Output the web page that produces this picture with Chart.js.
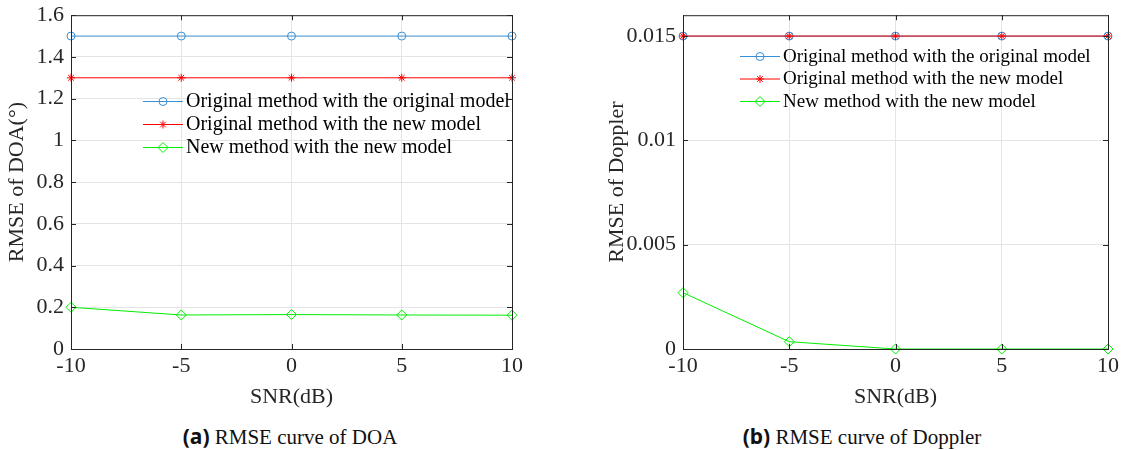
<!DOCTYPE html>
<html lang="en">
<head>
  <meta charset="UTF-8">
  <title>RMSE curves</title>
  <script src="https://cdn.jsdelivr.net/npm/chart.js"></script>
  <style>
    body { margin: 0; background: #fff; width: 1123px; height: 450px; position: relative; overflow: hidden; }
    .box { position: absolute; }
    .cap { position: absolute; top: 423px; font-family: "Liberation Serif", serif; font-size: 21px; line-height: 26px; color: #111; white-space: nowrap; transform: translateX(-50%); }
    .cap b { font-family: "Noto Sans", sans-serif; font-weight: bold; font-size: 21px; }
  </style>
</head>
<body>
  <div class="box" style="left:0;top:-5px;width:530px;height:419px;"><canvas id="doaChart"></canvas></div>
  <div class="box" style="left:600px;top:-5px;width:523px;height:419px;"><canvas id="dopChart"></canvas></div>
  <div class="cap" style="left:290px;"><b>(a)</b> RMSE curve of DOA</div>
  <div class="cap" style="left:862px;"><b>(b)</b> RMSE curve of Doppler</div>

  <script>
    // data
    const snr = [-10, -5, 0, 5, 10];
    const seriesNames = ['Original method with the original model', 'Original method with the new model', 'New method with the new model'];
    const doaOrigOrig = [1.5, 1.5, 1.5, 1.5, 1.5];
    const doaOrigNew = [1.3, 1.3, 1.3, 1.3, 1.3];
    const doaNewNew = [0.2, 0.163, 0.165, 0.163, 0.162];
    const dopOrigOrig = [0.015, 0.015, 0.015, 0.015, 0.015];
    const dopOrigNew = [0.015, 0.015, 0.015, 0.015, 0.015];
    const dopNewNew = [0.0027, 0.00035, 0, 0, 0];
    const xTicks = [-10, -5, 0, 5, 10];
    const doaTicks = [0, 0.2, 0.4, 0.6, 0.8, 1, 1.2, 1.4, 1.6];
    const dopTicks = [0, 0.005, 0.01, 0.015];

    const serif = '"Liberation Serif", "Times New Roman", serif';
    const axisColor = '#262626';
    const colors = ['#3a8fd2', '#ff0000', '#00ee00'];
    const styles = ['circle', 'star', 'rectRot'];
    const radii = [4, 4, 5];

    function makeSets(arrs) {
      return arrs.map((arr, i) => ({
        label: seriesNames[i],
        data: arr.map((v, j) => ({ x: snr[j], y: v })),
        borderColor: colors[i],
        backgroundColor: 'rgba(0,0,0,0)',
        borderWidth: 1,
        pointStyle: styles[i],
        pointRadius: radii[i],
        pointBorderWidth: 1,
        pointBorderColor: colors[i],
        pointBackgroundColor: 'rgba(0,0,0,0)',
        order: 3 - i,
        clip: false,
        tension: 0
      }));
    }

    // box, inward ticks and legend drawn inside the plot area
    const matlabBox = {
      id: 'matlabBox',
      afterDraw(chart, args, opts) {
        const ctx = chart.ctx;
        const a = chart.chartArea;
        ctx.save();
        ctx.strokeStyle = axisColor;
        ctx.lineWidth = 1;
        ctx.strokeRect(a.left + 0.5, a.top + 0.5, a.right - a.left, a.bottom - a.top);
        ctx.beginPath();
        chart.scales.x.ticks.forEach(t => {
          const px = Math.round(chart.scales.x.getPixelForValue(t.value)) + 0.5;
          ctx.moveTo(px, a.bottom); ctx.lineTo(px, a.bottom - 5);
          ctx.moveTo(px, a.top); ctx.lineTo(px, a.top + 5);
        });
        chart.scales.y.ticks.forEach(t => {
          const py = Math.round(chart.scales.y.getPixelForValue(t.value)) + 0.5;
          ctx.moveTo(a.left, py); ctx.lineTo(a.left + 5, py);
          ctx.moveTo(a.right, py); ctx.lineTo(a.right - 5, py);
        });
        ctx.stroke();

        // legend
        ctx.font = opts.fontSize + 'px ' + serif;
        ctx.textBaseline = 'middle';
        chart.data.datasets.forEach((ds, i) => {
          const y = opts.y + i * opts.gap;
          ctx.strokeStyle = ds.borderColor;
          ctx.fillStyle = 'rgba(0,0,0,0)';
          ctx.lineWidth = 1;
          ctx.beginPath();
          ctx.moveTo(opts.x, y + 0.5);
          ctx.lineTo(opts.x + 40, y + 0.5);
          ctx.stroke();
          Chart.helpers.drawPoint(ctx, {
            pointStyle: ds.pointStyle, radius: ds.pointRadius, borderWidth: 1, rotation: 0
          }, opts.x + 20, y + 0.5);
          ctx.fillStyle = '#000';
          ctx.fillText(ds.label, opts.x + 43, y + 1);
        });
        ctx.restore();
      }
    };

    function makeChart(id, sets, yTicks, yMax, yTitle, yWidth, padRight, legend) {
      return new Chart(document.getElementById(id), {
        type: 'line',
        data: { datasets: sets },
        options: {
          responsive: true,
          maintainAspectRatio: false,
          animation: false,
          layout: { padding: { top: 10, right: padRight, left: 0, bottom: 0 } },
          plugins: { legend: { display: false }, tooltip: { enabled: false }, matlabBox: legend },
          scales: {
            x: {
              type: 'linear', min: -10, max: 10,
              afterBuildTicks: s => { s.ticks = xTicks.map(v => ({ value: v })); },
              afterFit: s => { s.height = 65; },
              grid: { color: '#e4e4e4', drawTicks: false },
              border: { color: axisColor },
              ticks: { color: axisColor, padding: 4, font: { family: serif, size: 22 } },
              title: { display: true, text: 'SNR(dB)', color: axisColor, padding: { top: 0 }, font: { family: serif, size: 22 } }
            },
            y: {
              min: yTicks[0], max: yMax,
              afterBuildTicks: s => { s.ticks = yTicks.map(v => ({ value: v })); },
              afterFit: s => { s.width = yWidth; },
              grid: { color: '#e4e4e4', drawTicks: false },
              border: { color: axisColor },
              ticks: {
                color: axisColor, padding: 7, font: { family: serif, size: 22 },
                callback: v => String(Number(v.toFixed(4)))
              },
              title: { display: true, text: yTitle, color: axisColor, padding: { bottom: 0 }, font: { family: serif, size: 22 } }
            }
          }
        },
        plugins: [matlabBox]
      });
    }

    makeChart('doaChart', makeSets([doaOrigOrig, doaOrigNew, doaNewNew]), doaTicks, 1.6,
      'RMSE of DOA(\u00b0)', 71, 18, { x: 143, y: 106, gap: 23, fontSize: 20 });
    makeChart('dopChart', makeSets([dopOrigOrig, dopOrigNew, dopNewNew]), dopTicks, 0.016,
      'RMSE of Doppler', 83, 12, { x: 140, y: 61, gap: 22.5, fontSize: 19 });
  </script>
</body>
</html>
